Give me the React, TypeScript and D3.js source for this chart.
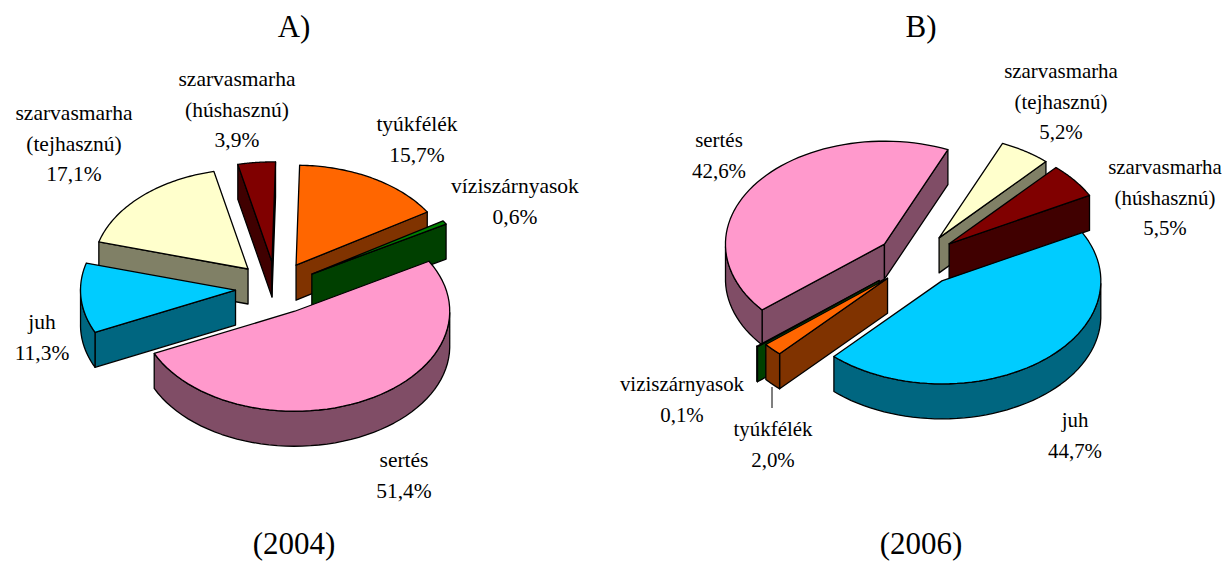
import React from "react";
import * as d3 from "d3";

const namesA = ["sertés", "juh", "szarvasmarha (tejhasznú)", "szarvasmarha (húshasznú)", "tyúkfélék", "víziszárnyasok"];
const valuesA = [51.4, 11.3, 17.1, 3.9, 15.7, 0.6];
const colorsA = ["#ff99cc", "#00ccff", "#ffffcc", "#800000", "#ff6600", "#008000"];
const explodeA = [0.262, 0.262, 0.262, 0.262, 0.262, 0.27];

const namesB = ["juh", "tyúkfélék", "viziszárnyasok", "sertés", "szarvasmarha (tejhasznú)", "szarvasmarha (húshasznú)"];
const valuesB = [44.7, 2.0, 0.1, 42.6, 5.2, 5.5];
const colorsB = ["#00ccff", "#ff6600", "#008000", "#ff99cc", "#ffffcc", "#800000"];
const explodeB = [0.256, 0.256, 0.31, 0.256, 0.256, 0.256];

// label anchor: centre x, first row centre y
const labelPosA = [[404, 460], [42, 322], [74, 113], [237, 79], [417, 124], [515, 186]];
const labelPosB = [[1075, 420], [773, 429], [682, 384], [719, 140], [1061, 71], [1165, 167]];

const titles = [
  { t: "A)", x: 294, y: 28, s: 31 },
  { t: "(2004)", x: 294, y: 545, s: 31 },
  { t: "B)", x: 921, y: 28, s: 31 },
  { t: "(2006)", x: 921, y: 545, s: 31 },
];

const FONT = "'Liberation Serif', 'Times New Roman', serif";
const ROW = 30.5;

type PieCfg = {
  names: string[]; values: number[]; colors: string[]; explode: number[]; pos: number[][];
  cx: number; cy: number; startDeg: number; Rx: number; Ry: number; labelSize: number;
};

function Pie3D({ names, values, colors, explode, pos, cx, cy, startDeg, Rx, Ry, labelSize }: PieCfg) {
  const depth = 35;
  const sx = d3.scaleLinear().domain([-1, 1]).range([-Rx, Rx]);
  const sy = d3.scaleLinear().domain([-1, 1]).range([-Ry, Ry]);
  const start = (startDeg * Math.PI) / 180;
  const arcs = d3.pie<number>().sort(null).startAngle(start).endAngle(start + 2 * Math.PI)(values);
  const line = d3.line<number[]>().x((p) => p[0]).y((p) => p[1]);

  const slices = arcs.map((a, i) => {
    const mid = (a.startAngle + a.endAngle) / 2;
    const ex = explode[i] * Math.sin(mid);
    const ey = -explode[i] * Math.cos(mid);
    const proj = (ang: number | null, z: number) => {
      const X = ang === null ? ex : ex + Math.sin(ang);
      const Y = ang === null ? ey : ey - Math.cos(ang);
      return [cx + sx(X), cy + sy(Y) + z];
    };
    const c = d3.rgb(colors[i]);
    const shade = d3.rgb(c.r / 2, c.g / 2, c.b / 2).formatHex();
    const angs = d3.range(0, 61).map((k) => a.startAngle + ((a.endAngle - a.startAngle) * k) / 60);
    const top = [proj(null, 0), ...angs.map((t) => proj(t, 0))];
    const walls: number[][][] = [];
    // radial cut faces facing the viewer
    if (Math.sin(a.startAngle) < 0) {
      walls.push([proj(null, 0), proj(a.startAngle, 0), proj(a.startAngle, depth), proj(null, depth)]);
    }
    if (Math.sin(a.endAngle) > 0) {
      walls.push([proj(null, 0), proj(a.endAngle, 0), proj(a.endAngle, depth), proj(null, depth)]);
    }
    // outer rim, near half of the ellipse only
    const q = (v: number) => {
      const m = v % (2 * Math.PI);
      return m < 0 ? m + 2 * Math.PI : m;
    };
    const front = angs.filter((t) => Math.cos(t) < 0.02 && q(t) > 1.5 && q(t) < 4.8);
    if (front.length > 1) {
      walls.push([...front.map((t) => proj(t, 0)), ...front.slice().reverse().map((t) => proj(t, depth))]);
    }
    return { i, order: -Math.cos(mid), top, walls, shade, color: colors[i] };
  });
  slices.sort((p, q) => p.order - q.order);

  return (
    <g>
      {slices.map((s) => (
        <g key={s.i} stroke="#000" strokeWidth={1.3} strokeLinejoin="round">
          {s.walls.map((w, k) => (
            <path key={k} d={(line(w) as string) + "Z"} fill={s.shade} />
          ))}
          <path d={(line(s.top) as string) + "Z"} fill={s.color} />
        </g>
      ))}
      {names.map((n, i) => {
        const m = n.match(/^(\S+) (\(.+\))$/);
        const rows = [...(m ? [m[1], m[2]] : [n]), values[i].toFixed(1).replace(".", ",") + "%"];
        return (
          <text key={n} textAnchor="middle" fontFamily={FONT} fontSize={labelSize} fill="#000">
            {rows.map((r, k) => (
              <tspan key={k} x={pos[i][0]} y={pos[i][1] + k * ROW + 7}>
                {r}
              </tspan>
            ))}
          </text>
        );
      })}
    </g>
  );
}

export default function App() {
  return (
    <svg width={1225} height={562} style={{ position: "absolute", left: 0, top: 0, background: "#fff" }}>
      {titles.map((t) => (
        <text key={t.t} x={t.x} y={t.y + 9} textAnchor="middle" fontFamily={FONT} fontSize={t.s} fill="#000">
          {t.t}
        </text>
      ))}
      <Pie3D names={namesA} values={valuesA} colors={colorsA} explode={explodeA} pos={labelPosA} cx={276} cy={288} startDeg={60} Rx={155} Ry={100} labelSize={21.5} />
      <Pie3D names={namesB} values={valuesB} colors={colorsB} explode={explodeB} pos={labelPosB} cx={917} cy={260} startDeg={62} Rx={159} Ry={103} labelSize={20.9} />
      <line x1={772} x2={772} y1={387} y2={408} stroke="#000" strokeWidth={1} />
    </svg>
  );
}
